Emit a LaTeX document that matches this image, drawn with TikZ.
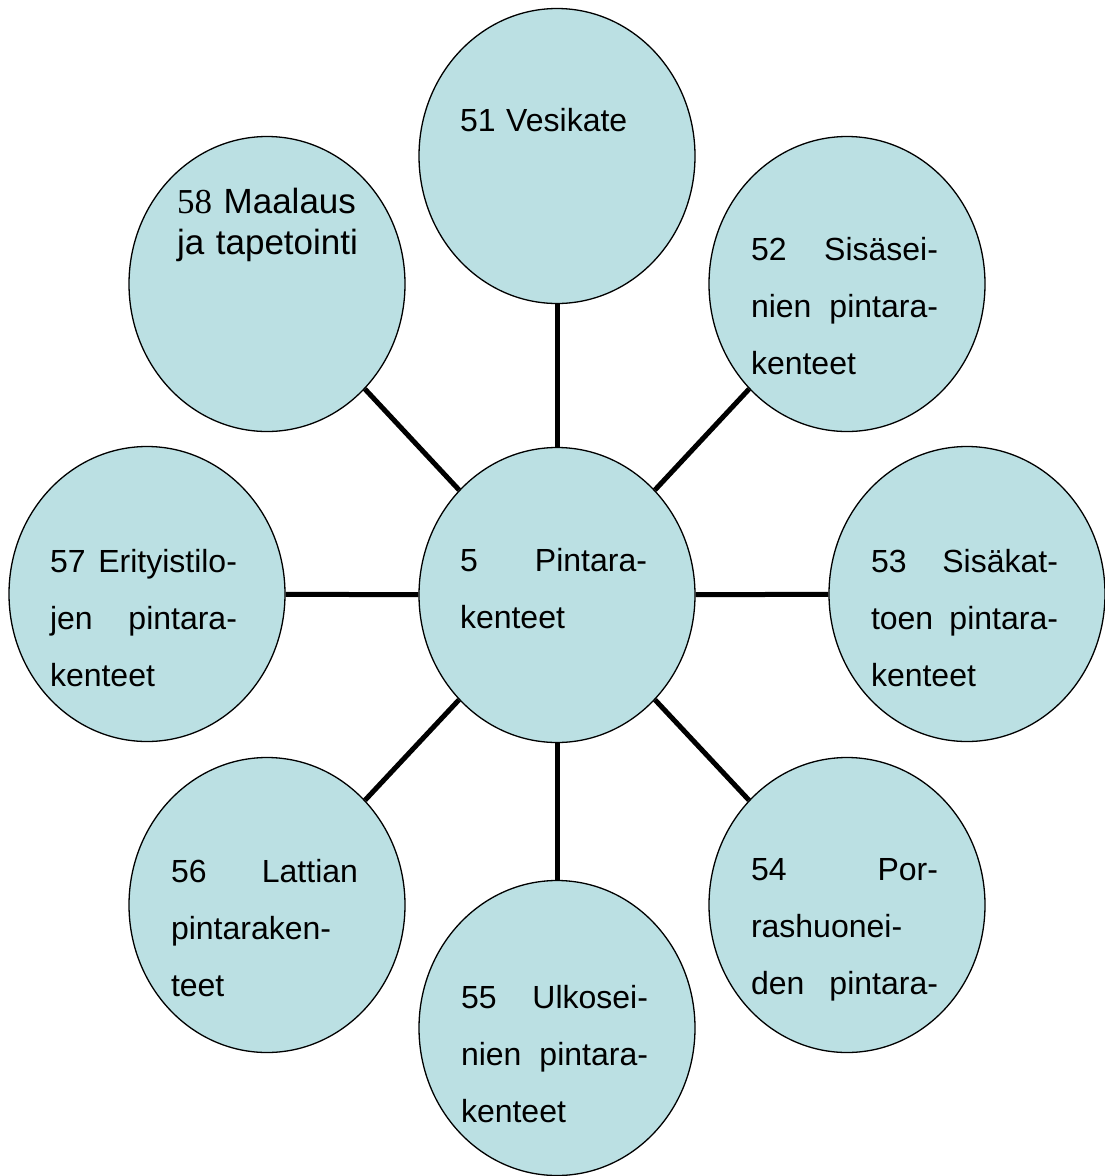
\documentclass[tikz,border=0pt]{standalone}
\usepackage{fontspec}
\setmainfont{Liberation Sans}
\newfontfamily\timesfont{Liberation Serif}
\usetikzlibrary{shapes.geometric}
\definecolor{bub}{RGB}{187,224,227}
\newcommand{\jline}[1]{\makebox[187pt][s]{\spaceskip=0pt\xspaceskip=0pt\relax #1}}
\begin{document}
\begin{tikzpicture}[x=1pt,y=-1pt,
  bubble/.style={ellipse, draw=black, line width=1.3pt, fill=bub,
    minimum width=276pt, minimum height=295pt, inner sep=0pt},
  conn/.style={line width=5pt, draw=black},
  txt/.style={anchor=base west, inner sep=0pt, outer sep=0pt, text width=187pt,
    align=left, font=\fontsize{32}{57}\selectfont},
  txtb/.style={anchor=base west, inner sep=0pt, outer sep=0pt, text width=220pt,
    align=left, font=\fontsize{35}{41}\selectfont}]
\useasboundingbox (0,0) rectangle (1105,1176);

\node[bubble] (c5)  at (557,595)  {};
\node[bubble] (c51) at (557,156)  {};
\node[bubble] (c52) at (847,284)  {};
\node[bubble] (c53) at (967,594)  {};
\node[bubble] (c54) at (847,905)  {};
\node[bubble] (c55) at (557,1028) {};
\node[bubble] (c56) at (267,905)  {};
\node[bubble] (c57) at (147,594)  {};
\node[bubble] (c58) at (267,284)  {};

\foreach \n in {51,52,53,54,55,56,57,58}
  \draw[conn] (c5) -- (c\n);

\node[txt] (t51) at (460,131.5) {51 Vesikate};
\node[txt] (t52) at (751,260) {\jline{52 Sisäsei-}\\ \jline{nien pintara-}\\ kenteet};
\node[txt] (t53) at (871,572) {\jline{53 Sisäkat-}\\ \jline{toen pintara-}\\ kenteet};
\node[txt] (t54) at (751,880) {\jline{54 Por-}\\ \jline{rashuonei-}\\ \jline{den pintara-}};
\node[txt] (t55) at (461,1008) {\jline{55 Ulkosei-}\\ \jline{nien pintara-}\\ kenteet};
\node[txt] (t56) at (171,882) {\jline{56 Lattian}\\ \jline{pintaraken-}\\ teet};
\node[txt] (t57) at (50,572) {\jline{57 Erityistilo-}\\ \jline{jen pintara-}\\ kenteet};
\node[txtb] (t58) at (177,213) {{\timesfont 58} Maalaus\\ ja tapetointi};
\node[txt] (t5) at (460,571) {\jline{5 Pintara-}\\ kenteet};
\end{tikzpicture}
\end{document}
